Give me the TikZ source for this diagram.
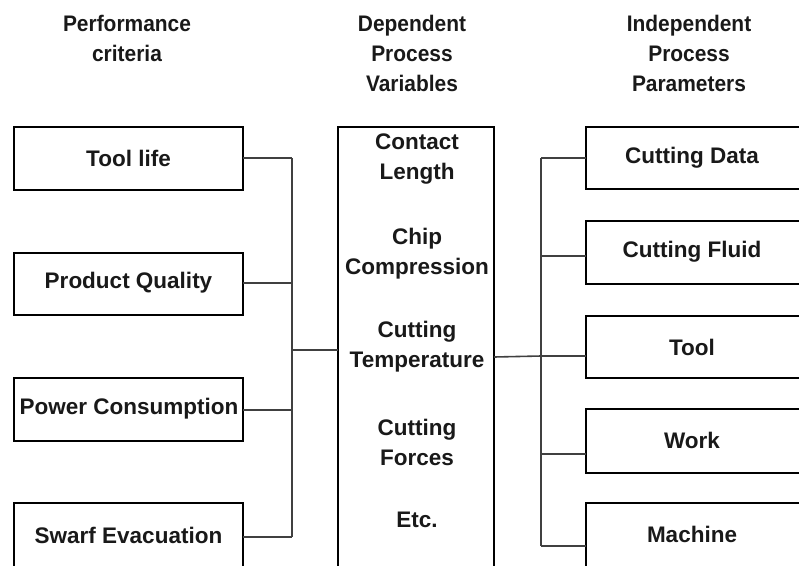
\documentclass[tikz,border=0pt]{standalone}
\usepackage{fontspec}
\setmainfont{Liberation Sans}
\newfontfamily\headfont[FakeStretch=0.93]{Liberation Sans}
\begin{document}
\begin{tikzpicture}[x=1pt,y=-1pt,
  box/.style={draw=black,line width=2.6pt,fill=white},
  lbl/.style={font=\fontsize{22.5}{30}\selectfont\bfseries,align=center,inner sep=0pt,text=black!90},
  hdr/.style={font=\headfont\fontsize{22.5}{30}\selectfont\bfseries,align=center,inner sep=0pt,text=black!90},
  conn/.style={draw=black!75,line width=1.6pt}]
\useasboundingbox (0,0) rectangle (799,565);
\begin{scope}
\clip (0,0) rectangle (799,565);
% headers
\node[hdr] (h1) at (127,38) {Performance\\criteria};
\node[hdr] (h2) at (412,53) {Dependent\\Process\\Variables};
\node[hdr] (h3) at (689,53) {Independent\\Process\\Parameters};
% coordinates for buses
\coordinate (lb1) at (292,158);
\coordinate (lb2) at (292,283);
\coordinate (lb3) at (292,410);
\coordinate (lb4) at (292,537);
\coordinate (lbm) at (292,350);
\coordinate (rb1) at (541,158);
\coordinate (rb2) at (541,256);
\coordinate (rb3) at (541,356);
\coordinate (rb4) at (541,454);
\coordinate (rb5) at (541,546);
% connectors
\draw[conn] (lb1) -- (lb4);
\draw[conn] (rb1) -- (rb5);
% left boxes
\draw[box] (14,127) rectangle (243,190);
\draw[box] (14,253) rectangle (243,315);
\draw[box] (14,378) rectangle (243,441);
\draw[box] (14,503) rectangle (243,580);
\node[lbl] (l1) at (128.5,158) {Tool life};
\node[lbl] (l2) at (128.5,283) {Product Quality};
\node[lbl] (l3) at (129,409) {Power Consumption};
\node[lbl] (l4) at (128.5,535) {Swarf Evacuation};
\coordinate (l1e) at (243,158);
\coordinate (l2e) at (243,283);
\coordinate (l3e) at (243,410);
\coordinate (l4e) at (243,537);
\draw[conn] (l1e) -- (lb1);
\draw[conn] (l2e) -- (lb2);
\draw[conn] (l3e) -- (lb3);
\draw[conn] (l4e) -- (lb4);
% middle box
\draw[box] (338,127) rectangle (494,580);
\coordinate (mL) at (338,350);
\coordinate (mR) at (494,357);
\draw[conn] (lbm) -- (mL);
\draw[conn] (mR) -- (rb3);
\node[lbl] (m1) at (417,159) {Contact\\Length};
\node[lbl] (m2) at (417,254) {Chip\\Compression};
\node[lbl] (m3) at (417,347) {Cutting\\Temperature};
\node[lbl] (m4) at (417,442) {Cutting\\Forces};
\node[lbl] (m5) at (417,520) {Etc.};
% right boxes
\draw[box] (586,127) rectangle (830,189);
\draw[box] (586,221) rectangle (830,284);
\draw[box] (586,316) rectangle (830,378);
\draw[box] (586,409) rectangle (830,473);
\draw[box] (586,503) rectangle (830,580);
\node[lbl] (r1) at (692,158) {Cutting Data};
\node[lbl] (r2) at (692,252) {Cutting Fluid};
\node[lbl] (r3) at (692,347) {Tool};
\node[lbl] (r4) at (692,440) {Work};
\node[lbl] (r5) at (692,534) {Machine};
\coordinate (r1e) at (586,158);
\coordinate (r2e) at (586,256);
\coordinate (r3e) at (586,356);
\coordinate (r4e) at (586,454);
\coordinate (r5e) at (586,546);
\draw[conn] (rb1) -- (r1e);
\draw[conn] (rb2) -- (r2e);
\draw[conn] (rb3) -- (r3e);
\draw[conn] (rb4) -- (r4e);
\draw[conn] (rb5) -- (r5e);
\end{scope}
\end{tikzpicture}
\end{document}
